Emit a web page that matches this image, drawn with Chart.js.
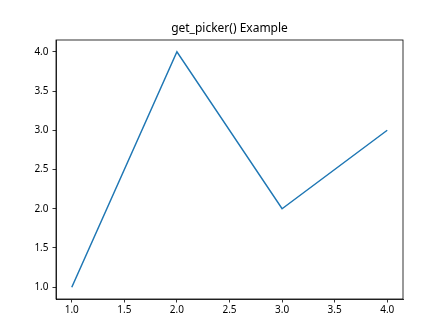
<!DOCTYPE html>
<html>
<head>
<meta charset="utf-8">
<script src="https://cdn.jsdelivr.net/npm/chart.js@4"></script>
<style>
  html, body { margin: 0; padding: 0; background: #fff; }
  #wrap { width: 448px; height: 336px; }
</style>
</head>
<body>
<div id="wrap"><canvas id="myChart" width="448" height="336"></canvas></div>
<script>
const xValues = [1, 2, 3, 4];
const yValues = [1, 4, 2, 3];
const xTicks = [1.0, 1.5, 2.0, 2.5, 3.0, 3.5, 4.0];
const yTicks = [1.0, 1.5, 2.0, 2.5, 3.0, 3.5, 4.0];
const titleText = 'get_picker() Example';

const fontFamily = '"Noto Sans", "Open Sans", sans-serif';

// matplotlib draws a box round the axes and centres the title over them
const frameBox = {
  id: 'frameBox',
  afterDraw(chart) {
    const { ctx, chartArea: a } = chart;
    ctx.save();
    ctx.strokeStyle = '#000';
    ctx.lineWidth = 0.8;
    ctx.strokeRect(a.left, a.top, a.right - a.left, a.bottom - a.top);

    ctx.fillStyle = '#000';
    ctx.font = '12px ' + fontFamily;
    ctx.textAlign = 'center';
    ctx.textBaseline = 'middle';
    ctx.fillText(titleText, (a.left + a.right) / 2, a.top - 11);
    ctx.restore();
  }
};

const points = xValues.map((x, i) => ({ x: x, y: yValues[i] }));

new Chart(document.getElementById('myChart'), {
  type: 'line',
  data: {
    datasets: [
      {
        data: points,
        borderColor: '#1f77b4',
        borderWidth: 1.5,
        pointRadius: 0,
        tension: 0,
        fill: false,
      },
    ],
  },
  options: {
    responsive: false,
    animation: false,
    layout: { padding: { left: 0, right: 45, top: 40, bottom: 0 } },
    plugins: {
      legend: { display: false },
      tooltip: { enabled: false },
      title: { display: false },
    },
    scales: {
      x: {
        type: 'linear',
        min: 0.85,
        max: 4.15,
        afterBuildTicks: (scale) => {
          scale.ticks = xTicks.map((v) => ({ value: v }));
        },
        afterFit: (scale) => {
          scale.height = 37;
        },
        grid: { display: true, drawOnChartArea: false, tickLength: 3.5, color: '#000', tickWidth: 0.8 },
        border: { display: true, color: '#000', width: 0.8 },
        ticks: {
          color: '#000',
          padding: 2,
          maxRotation: 0,
          autoSkip: false,
          font: { family: fontFamily, size: 10 },
          callback: (v) => Number(v).toFixed(1),
        },
      },
      y: {
        type: 'linear',
        min: 0.85,
        max: 4.15,
        afterBuildTicks: (scale) => {
          scale.ticks = yTicks.map((v) => ({ value: v }));
        },
        afterFit: (scale) => {
          scale.width = 56;
        },
        grid: { display: true, drawOnChartArea: false, tickLength: 3.5, color: '#000', tickWidth: 0.8 },
        border: { display: true, color: '#000', width: 0.8 },
        ticks: {
          color: '#000',
          padding: 4,
          autoSkip: false,
          font: { family: fontFamily, size: 10 },
          callback: (v) => Number(v).toFixed(1),
        },
      },
    },
  },
  plugins: [frameBox],
});
</script>
</body>
</html>
